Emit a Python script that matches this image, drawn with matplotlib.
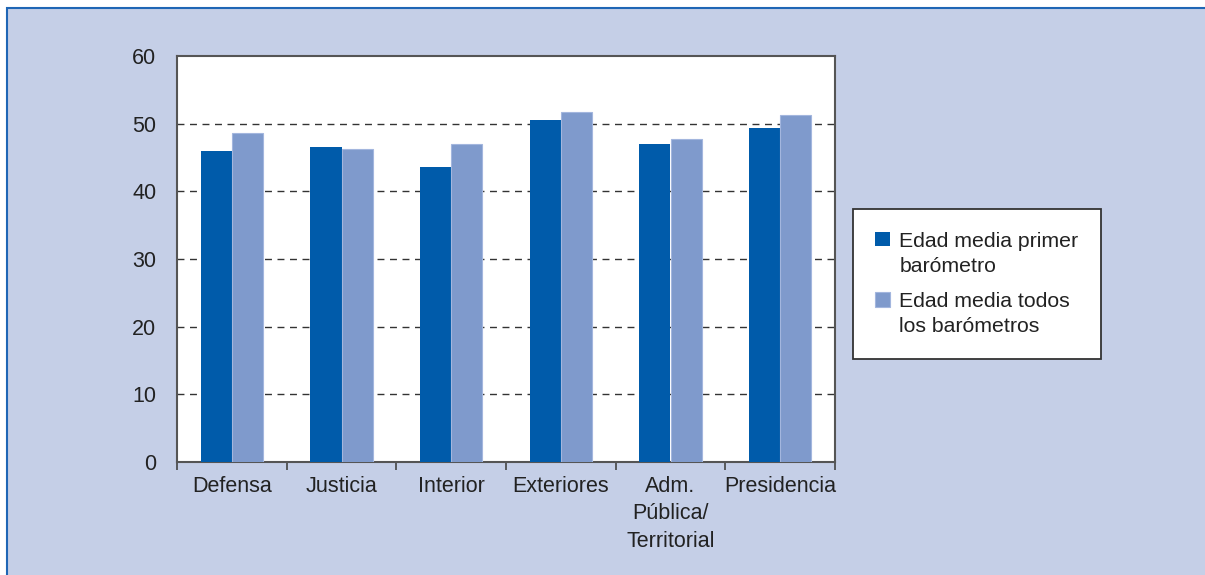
import matplotlib.pyplot as plt
import matplotlib.patches as mpatches
import numpy as np

plt.rcParams['font.family'] = ['Liberation Sans', 'DejaVu Sans']

# Average age per ministry
ministerios = ['Defensa', 'Justicia', 'Interior', 'Exteriores',
               'Adm.\nPública/\nTerritorial', 'Presidencia']
edad_primer = [46.0, 46.5, 43.6, 50.5, 47.0, 49.4]
edad_todos = [48.6, 46.2, 47.0, 51.7, 47.8, 51.3]
series_labels = ['Edad media primer\nbarómetro', 'Edad media todos\nlos barómetros']

dark_blue = '#005BAA'
light_blue = '#7F9ACC'
panel_bg = '#C5CFE7'
text_col = '#222222'

fig = plt.figure(figsize=(12.05, 5.75), dpi=100, facecolor='white')

# Light blue panel with a thin darker border on top and left
panel = mpatches.Rectangle((7 / 1205, -0.01), 1.0, 1 - 8 / 575 + 0.01,
                           transform=fig.transFigure, facecolor=panel_bg,
                           edgecolor='#1F66B5', linewidth=1.5, zorder=-10)
fig.patches.append(panel)

ax = fig.add_axes([177 / 1205, 113 / 575, 658 / 1205, 406 / 575])
ax.set_facecolor('white')

x = np.arange(len(ministerios))
w = 0.285
ax.bar(x - w / 2, edad_primer, w, color=dark_blue, label=series_labels[0], zorder=3)
ax.bar(x + w / 2, edad_todos, w, color=light_blue, edgecolor='#A3B6DE',
       linewidth=0.8, label=series_labels[1], zorder=3)

ax.set_xlim(-0.5, len(ministerios) - 0.5)
ax.set_ylim(0, 60)
ax.set_yticks(range(0, 61, 10))
ax.tick_params(axis='y', length=0, pad=15, labelsize=15.5, labelcolor=text_col)

# Ticks between categories, labels centred under each group
ax.set_xticks(np.arange(-0.5, len(ministerios), 1.0))
ax.set_xticklabels([])
ax.set_xticks(x, minor=True)
ax.set_xticklabels(ministerios, minor=True, fontsize=15.5, color=text_col,
                   linespacing=1.4, va='top')
ax.tick_params(axis='x', which='major', length=6, width=1.2, color='#444444', direction='out')
ax.tick_params(axis='x', which='minor', length=0, pad=10)

for yv in range(10, 60, 10):
    ax.axhline(yv, color='#333333', linewidth=1.0, linestyle=(0, (5, 4)), zorder=1)

for s in ax.spines.values():
    s.set_color('#555555')
    s.set_linewidth(1.5)

leg = fig.legend(loc='center left', bbox_to_anchor=(853 / 1205, 1 - 284 / 575),
                 fontsize=15.3, frameon=True, fancybox=False, edgecolor='#333333',
                 facecolor='white', framealpha=1,
                 handlelength=0.68, handleheight=0.68, handletextpad=0.45,
                 borderpad=1.05, labelspacing=0.75, borderaxespad=0)
leg.get_frame().set_linewidth(1.3)
for t in leg.get_texts():
    t.set_color(text_col)
    t.set_linespacing(1.42)
# square markers sit next to the first line of each label
for col in leg._legend_handle_box.get_children():
    for row in col.get_children():
        row.align = 'top'

fig.savefig('out.png', dpi=100, facecolor='white')
